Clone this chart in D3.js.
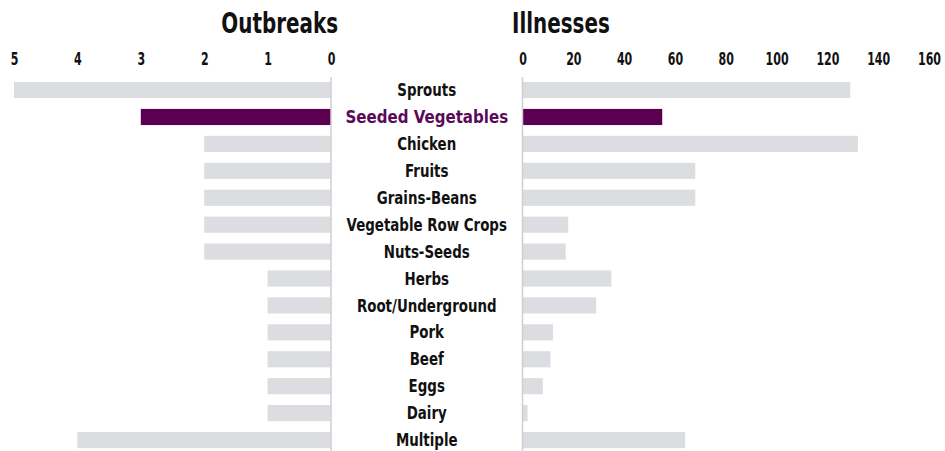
<!DOCTYPE html>
<html>
<head>
<meta charset="utf-8">
<script src="https://cdn.jsdelivr.net/npm/d3@7"></script>
<style>
  html, body { margin: 0; padding: 0; background: #fff; }
  svg text { font-family: "DejaVu Sans Condensed", "DejaVu Sans", sans-serif; font-weight: bold; }
</style>
</head>
<body>
<svg id="chart" width="945" height="451"></svg>
<script>
// Food categories, top to bottom
const categories = [
  "Sprouts", "Seeded Vegetables", "Chicken", "Fruits", "Grains-Beans",
  "Vegetable Row Crops", "Nuts-Seeds", "Herbs", "Root/Underground",
  "Pork", "Beef", "Eggs", "Dairy", "Multiple"
];
// Number of outbreaks per category
const outbreaks = [5, 3, 2, 2, 2, 2, 2, 1, 1, 1, 1, 1, 1, 4];
// Number of illnesses per category
const illnesses = [129, 55, 132, 68, 68, 18, 17, 35, 29, 12, 11, 8, 2, 64];
// Axis tick values
const outbreakTicks = [0, 1, 2, 3, 4, 5];
const illnessTicks = [0, 20, 40, 60, 80, 100, 120, 140, 160];
const highlight = "Seeded Vegetables";

const rows = categories.map((c, i) => ({ cat: c, out: outbreaks[i], ill: illnesses[i] }));

const svg = d3.select("#chart");
const GREY = "#dcdde0", PURPLE = "#5b0050", AXIS = "#cfcfd1";

// Squeeze text horizontally to get a condensed face look
function condense(sel, k) {
  sel.each(function (d) {
    const f = typeof k === "function" ? k(d) : k;
    const len = this.getComputedTextLength();
    d3.select(this).attr("textLength", len * f).attr("lengthAdjust", "spacingAndGlyphs");
  });
}

const y = d3.scaleBand().domain(categories).range([76.6, 453.5])
  .paddingInner(0.4).paddingOuter(0.2);
const xL = d3.scaleLinear().domain([0, 5]).range([331, 14]);
const xR = d3.scaleLinear().domain([0, 160]).range([522.5, 929]);

// Left panel: outbreaks, bars grow leftwards from zero
svg.append("g").selectAll("rect").data(rows).join("rect")
  .attr("x", d => xL(d.out))
  .attr("y", d => y(d.cat))
  .attr("width", d => xL(0) - xL(d.out))
  .attr("height", y.bandwidth())
  .attr("fill", d => d.cat === highlight ? PURPLE : GREY);

// Right panel: illnesses
svg.append("g").selectAll("rect").data(rows).join("rect")
  .attr("x", xR(0))
  .attr("y", d => y(d.cat))
  .attr("width", d => xR(d.ill) - xR(0))
  .attr("height", y.bandwidth())
  .attr("fill", d => d.cat === highlight ? PURPLE : GREY);

// Zero baselines
[xL(0), xR(0)].forEach(x => {
  svg.append("line").attr("x1", x).attr("x2", x).attr("y1", 77).attr("y2", 451)
    .attr("stroke", AXIS).attr("stroke-width", 1.5);
});

// Tick labels along the top, narrowed around each tick position
function styleAxis(g) {
  g.select(".domain").remove();
  g.attr("font-family", null).attr("font-size", null);
  g.selectAll("text").attr("font-size", 17).attr("fill", "#111")
    .attr("transform", "scale(0.72,1)");
}
svg.append("g").attr("transform", "translate(0,65)")
  .call(d3.axisTop(xL).tickValues(outbreakTicks).tickSize(0).tickPadding(0).tickFormat(d3.format("d")))
  .call(styleAxis);
svg.append("g").attr("transform", "translate(0,65)")
  .call(d3.axisTop(xR).tickValues(illnessTicks).tickSize(0).tickPadding(0).tickFormat(d3.format("d")))
  .call(styleAxis);

// Panel titles
svg.append("text").attr("x", 338).attr("y", 33).attr("text-anchor", "end")
  .attr("font-size", 28).attr("fill", "#111").text("Outbreaks").call(condense, 0.79);
svg.append("text").attr("x", 512).attr("y", 33).attr("text-anchor", "start")
  .attr("font-size", 28).attr("fill", "#111").text("Illnesses").call(condense, 0.79);

// Category labels between the panels
svg.append("g").selectAll("text").data(rows).join("text")
  .attr("x", (xL(0) + xR(0)) / 2)
  .attr("y", d => y(d.cat) + y.bandwidth() / 2)
  .attr("dy", "0.36em")
  .attr("text-anchor", "middle")
  .attr("font-size", d => d.cat === highlight ? 18 : 17)
  .attr("fill", d => d.cat === highlight ? "#5b0a5a" : "#111")
  .text(d => d.cat)
  .call(condense, d => d.cat === highlight ? 0.93 : 0.875);
</script>
</body>
</html>
